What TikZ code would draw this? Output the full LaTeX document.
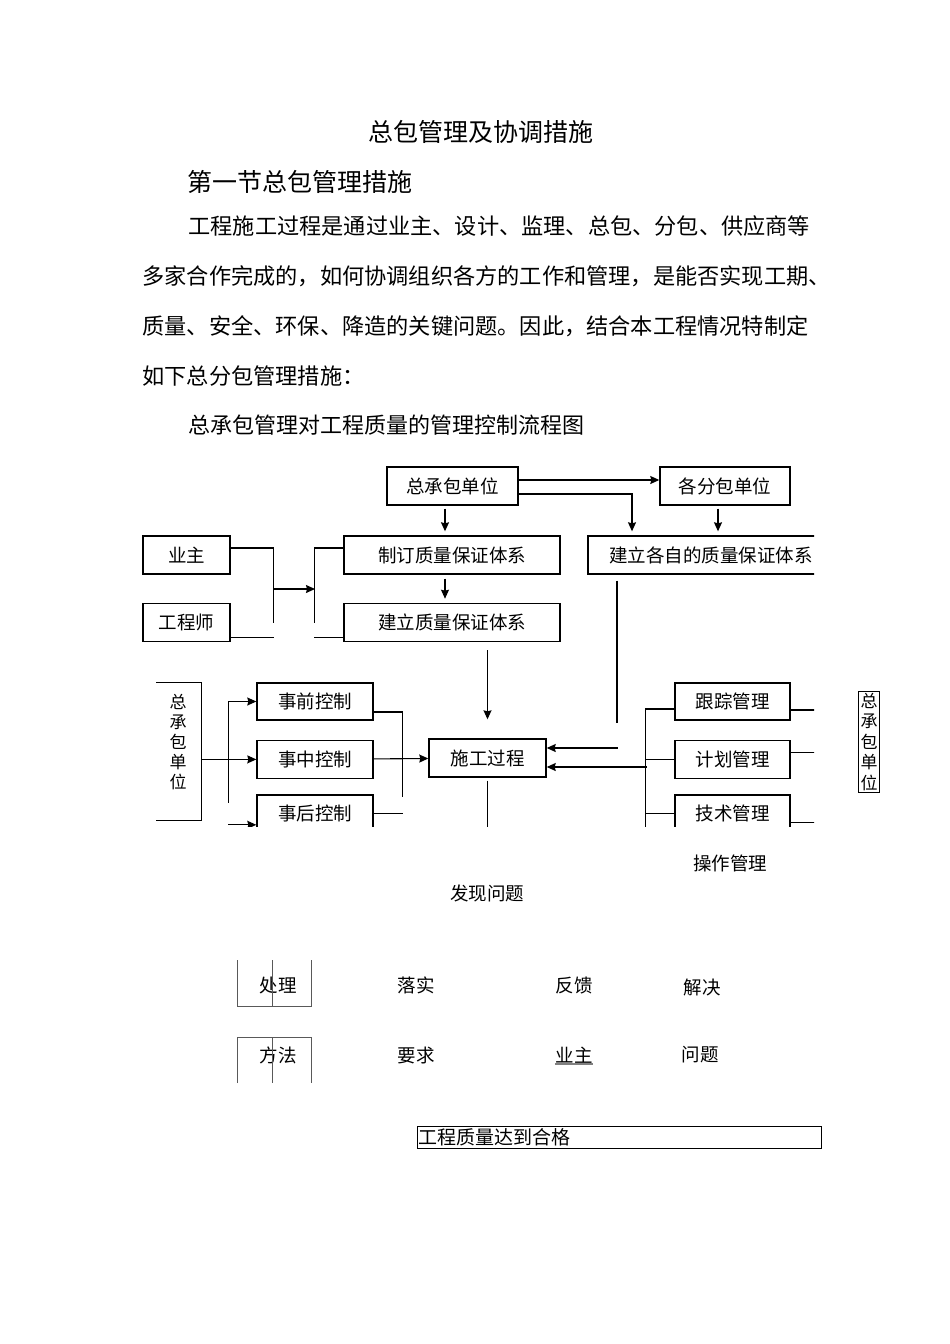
\documentclass[tikz,border=0pt]{standalone}
\usepackage{fontspec}
\setmainfont{Noto Sans CJK SC}
\usetikzlibrary{arrows.meta,positioning}
\newcommand{\lbl}{\fontsize{18.5pt}{20pt}\selectfont}
\newcommand{\vtfont}{\fontsize{17pt}{20.5pt}\selectfont}
\newcommand{\bdfont}{\fontsize{22.2pt}{26pt}\selectfont}
\newcommand{\hdfont}{\fontsize{25pt}{28pt}\selectfont}
\begin{document}
\begin{tikzpicture}[x=1pt,y=-1pt,>={Stealth[length=9pt,width=8pt,inset=1pt]},line width=1.1pt,
                    box/.style={draw,line width=1.4pt,inner sep=0pt,minimum height=38pt,font=\lbl},
                    plain/.style={inner sep=0pt,font=\lbl},
                    vtext/.style={align=center,inner sep=2pt,font=\vtfont},
                    body/.style={inner sep=0pt,anchor=west,font=\bdfont}]

\useasboundingbox (0,0) rectangle (950,1344);

% text above the chart
\node[inner sep=0pt,font=\hdfont] (title) at (481,132) {总包管理及协调措施};
\node[body,font=\hdfont] (sec) at (187,182) {第一节总包管理措施};
\node[body] (p1) at (188,226) {工程施工过程是通过业主、设计、监理、总包、分包、供应商等};
\node[body] (p2) at (142,276) {多家合作完成的，如何协调组织各方的工作和管理，是能否实现工期、};
\node[body] (p3) at (142,326) {质量、安全、环保、降造的关键问题。因此，结合本工程情况特制定};
\node[body] (p4) at (142,376) {如下总分包管理措施：};
\node[body,font=\fontsize{22pt}{24pt}\selectfont] (cap) at (188,425) {总承包管理对工程质量的管理控制流程图};

% the chart, cut off at right and bottom
\begin{scope}
\clip (140,455) rectangle (814,826);

\node[box,minimum width=131pt] (zcb) at (452.5,486) {总承包单位};
\node[box,minimum width=130pt] (fb) at (725,486) {各分包单位};
\node[box,minimum width=87pt] (yz) at (186.5,555) {业主};
\node[box,minimum width=87pt] (gcs) [below=28pt of yz] {工程师};
\node[box,minimum width=216pt] (zd) at (452,555) {制订质量保证体系};
\node[box,minimum width=216pt] (jl) [below=28pt of zd] {建立质量保证体系};
\node[box,minimum width=246pt] (gz) at (711,555) {建立各自的质量保证体系};

\node[inner sep=0pt,minimum width=44pt,minimum height=137pt] (kz) at (179,751.5) {};
\node[vtext,font=\fontsize{17pt}{20pt}\selectfont] (kzt) at (178,742) {总\\承\\包\\单\\位};
\node[box,minimum width=116pt,minimum height=37pt] (sq) at (315,701.5) {事前控制};
\node[box,minimum width=116pt] (sz) [below=19pt of sq] {事中控制};
\node[box,minimum width=116pt] (sh) [below=15pt of sz] {事后控制};
\node[box,minimum width=117pt] (sg) at (487.5,758) {施工过程};
\node[box,minimum width=115pt,minimum height=37pt] (gzong) at (732.5,701.5) {跟踪管理};
\node[box,minimum width=115pt] (jhua) [below=19pt of gzong] {计划管理};
\node[box,minimum width=115pt] (jshu) [below=15pt of jhua] {技术管理};

\coordinate (ja) at (273,589);
\coordinate (jb) at (315,589);

\draw[->] ([yshift=6pt]zcb.east) -- ([yshift=6pt]fb.west);
\draw[->,shorten >=4pt] ([yshift=-8pt]zcb.east) -| ([xshift=-79pt]gz.north);
\draw[->,shorten <=3pt,shorten >=4pt] ([xshift=-7pt]fb.south) -- ([xshift=7pt]gz.north);
\draw[->,shorten <=3pt,shorten >=4pt] ([xshift=-7.5pt]zcb.south) -- ([xshift=-7pt]zd.north);
\draw[->,shorten <=4pt,shorten >=4pt] ([xshift=-7pt]zd.south) -- ([xshift=-7pt]jl.north);
\draw ([yshift=7pt]yz.east) -- ++(43,0) -- ++(0,75);
\draw ([yshift=-15pt]gcs.east) -- ++(43,0);
\draw[->] (ja) -- (jb);
\draw ([yshift=7pt]zd.west) -- ++(-29,0) -- ++(0,75);
\draw ([yshift=-15pt]jl.west) -- ++(-29,0);
\draw[->,shorten <=8pt,shorten >=19pt] (sg.north |- jl.south) -- (sg.north);
\draw ([xshift=-94pt,yshift=-6pt]gz.south) -- ++(0,142);

\draw (kz.north west) -- (kz.north east) -- (kz.south east) -- (kz.south west);
\draw[->] (kz.east |- sz) -- (sz);
\draw[<-] (sq.west) -- ++(-28,0) -- ++(0,101);
\draw[<-] ([yshift=-11pt]sh.west) -- ++(-28,0);
\draw ([yshift=-10.5pt]sq.east) -- ++(29,0) -- ++(0,85);
\draw[->] (sz) -- (sg);
\draw (sh.east) -- ++(29,0);
\draw ([yshift=-3pt]sg.south) -- ++(0,60);

\draw[<-] ([yshift=10pt]sg.east) -- ++(71,0);
\draw[<-] ([yshift=-9pt]sg.east) -- ++(100,0);
\draw ([yshift=-7.5pt]gzong.west) -- ++(-29,0) -- ++(0,125);
\draw (jhua.west) -- ++(-29,0);
\draw (jshu.west) -- ++(-29,0);
\draw ([yshift=-8.5pt]gzong.east) -- ++(40,0);
\draw ([yshift=7pt]jhua.east) -- ++(40,0);
\draw ([yshift=-9pt]jshu.east) -- ++(40,0);
\end{scope}

\node[vtext,draw,line width=0.8pt] (kr) at (869,742) {总\\承\\包\\单\\位};

% loose labels below the chart
\node[plain] (cz) at (730,863) {操作管理};
\node[plain] (fx) at (487,893) {发现问题};
\node[plain] (cl) at (278,985) {处理};
\node[plain] (ls) at (416,985) {落实};
\node[plain] (fk) at (574,985) {反馈};
\node[plain] (jj) at (702,987) {解决};
\node[plain] (ff) at (278,1055) {方法};
\node[plain] (yq) at (416,1055) {要求};
\node[plain] (yzb) at (574,1055) {业主};
\node[plain] (wt) at (700,1055) {问题};
\draw[gray,line width=1.6pt] (yzb.south west) -- (yzb.south east);

\draw[line width=0.8pt,gray!70!black] (237,960) -- (237,1006) -- (311,1006) -- (311,960)
    (272,960) -- (272,1006);
\draw[line width=0.8pt,gray!70!black] (237,1083) -- (237,1037) -- (311,1037) -- (311,1083)
    (272,1037) -- (272,1083);

\node[draw,line width=0.9pt,inner sep=1pt,minimum height=22pt,text width=402pt,align=left,
      anchor=west,font=\fontsize{19pt}{21pt}\selectfont] (hg) at (417,1137) {工程质量达到合格};
\end{tikzpicture}
\end{document}
